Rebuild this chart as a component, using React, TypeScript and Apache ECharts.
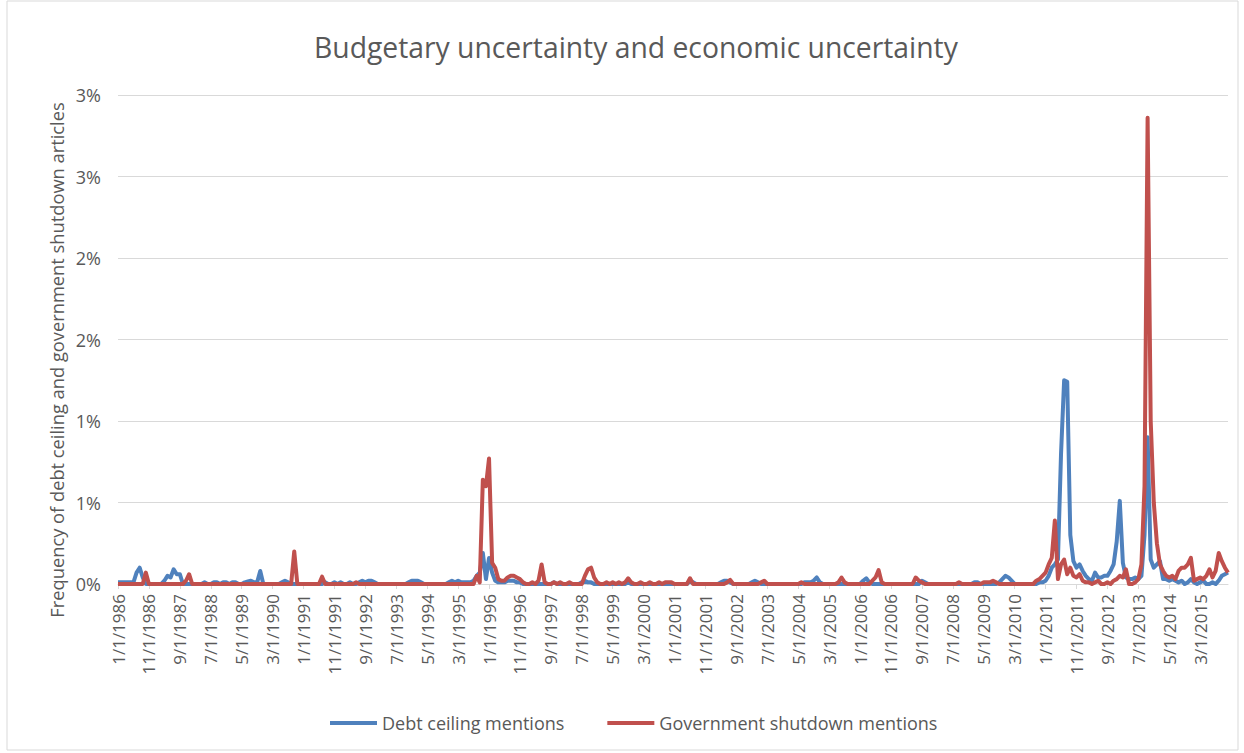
import React, { useEffect, useRef } from "react";
import * as echarts from "echarts";

const TITLE = "Budgetary uncertainty and economic uncertainty";
const Y_AXIS_NAME = "Frequency of debt ceiling and government shutdown articles";
const SERIES_NAMES = ["Debt ceiling mentions", "Government shutdown mentions"];
const COLORS = ["#4F81BD", "#C0504D"];
const FIRST_YEAR = 1986;
const LAST_YEAR = 2015;

// Monthly category labels, M/1/YYYY
const categories: string[] = [];
for (let y = FIRST_YEAR; y <= LAST_YEAR; y++) {
  for (let m = 1; m <= 12; m++) categories.push(`${m}/1/${y}`);
}

// Share of articles (%), one row per year, Jan..Dec
const debtCeiling: number[] = [
  /*1986*/ [0.01, 0.01, 0.01, 0.01, 0.01, 0.01, 0.07, 0.10, 0.04, 0.0, 0.0, 0.0],
  /*1987*/ [0.0, 0.0, 0.0, 0.02, 0.05, 0.04, 0.09, 0.06, 0.06, 0.0, 0.0, 0.0],
  /*1988*/ [0.0, 0.0, 0.0, 0.0, 0.01, 0.0, 0.0, 0.01, 0.01, 0.0, 0.01, 0.01],
  /*1989*/ [0.0, 0.01, 0.01, 0.0, 0.0, 0.01, 0.015, 0.02, 0.01, 0.01, 0.08, 0.0],
  /*1990*/ [0.0, 0.0, 0.0, 0.0, 0.0, 0.01, 0.02, 0.01, 0.0, 0.0, 0.0, 0.0],
  /*1991*/ [0.0, 0.0, 0.0, 0.0, 0.0, 0.0, 0.0, 0.01, 0.0, 0.0, 0.01, 0.0],
  /*1992*/ [0.01, 0.0, 0.0, 0.01, 0.0, 0.0, 0.01, 0.02, 0.01, 0.02, 0.02, 0.01],
  /*1993*/ [0.0, 0.0, 0.0, 0.0, 0.0, 0.0, 0.0, 0.0, 0.0, 0.0, 0.01, 0.02],
  /*1994*/ [0.02, 0.02, 0.01, 0.0, 0.0, 0.0, 0.0, 0.0, 0.0, 0.0, 0.0, 0.01],
  /*1995*/ [0.02, 0.01, 0.02, 0.01, 0.01, 0.01, 0.01, 0.02, 0.05, 0.07, 0.19, 0.03],
  /*1996*/ [0.16, 0.07, 0.02, 0.01, 0.01, 0.01, 0.02, 0.02, 0.02, 0.01, 0.01, 0.0],
  /*1997*/ [0.0, 0.0, 0.0, 0.0, 0.0, 0.0, 0.0, 0.0, 0.0, 0.01, 0.0, 0.0],
  /*1998*/ [0.0, 0.0, 0.0, 0.0, 0.0, 0.0, 0.01, 0.02, 0.01, 0.01, 0.0, 0.0],
  /*1999*/ [0.0, 0.0, 0.0, 0.0, 0.0, 0.0, 0.0, 0.0, 0.0, 0.01, 0.0, 0.0],
  /*2000*/ [0.0, 0.0, 0.0, 0.0, 0.0, 0.0, 0.0, 0.0, 0.0, 0.0, 0.0, 0.0],
  /*2001*/ [0.0, 0.0, 0.0, 0.0, 0.0, 0.02, 0.01, 0.0, 0.0, 0.0, 0.0, 0.0],
  /*2002*/ [0.0, 0.0, 0.0, 0.01, 0.02, 0.02, 0.01, 0.0, 0.0, 0.0, 0.0, 0.0],
  /*2003*/ [0.0, 0.01, 0.02, 0.01, 0.0, 0.0, 0.0, 0.0, 0.0, 0.0, 0.0, 0.0],
  /*2004*/ [0.0, 0.0, 0.0, 0.0, 0.0, 0.0, 0.01, 0.01, 0.01, 0.02, 0.04, 0.01],
  /*2005*/ [0.0, 0.0, 0.0, 0.0, 0.0, 0.0, 0.0, 0.0, 0.0, 0.0, 0.0, 0.0],
  /*2006*/ [0.0, 0.02, 0.035, 0.01, 0.0, 0.0, 0.0, 0.0, 0.0, 0.0, 0.0, 0.0],
  /*2007*/ [0.0, 0.0, 0.0, 0.0, 0.0, 0.0, 0.0, 0.0, 0.02, 0.01, 0.0, 0.0],
  /*2008*/ [0.0, 0.0, 0.0, 0.0, 0.0, 0.0, 0.0, 0.0, 0.0, 0.0, 0.0, 0.0],
  /*2009*/ [0.0, 0.01, 0.01, 0.0, 0.0, 0.0, 0.0, 0.0, 0.0, 0.01, 0.03, 0.05],
  /*2010*/ [0.04, 0.02, 0.0, 0.0, 0.0, 0.0, 0.0, 0.0, 0.0, 0.0, 0.01, 0.01],
  /*2011*/ [0.02, 0.05, 0.1, 0.12, 0.15, 0.8, 1.25, 1.24, 0.3, 0.14, 0.1, 0.12],
  /*2012*/ [0.08, 0.05, 0.03, 0.02, 0.07, 0.04, 0.04, 0.05, 0.05, 0.08, 0.12, 0.26],
  /*2013*/ [0.51, 0.13, 0.04, 0.03, 0.03, 0.04, 0.03, 0.05, 0.3, 0.9, 0.15, 0.1],
  /*2014*/ [0.12, 0.14, 0.03, 0.03, 0.02, 0.03, 0.02, 0.01, 0.02, 0.0, 0.01, 0.03],
  /*2015*/ [0.01, 0.0, 0.01, 0.02, 0.0, 0.0, 0.01, 0.0, 0.02, 0.05, 0.06, 0.07],
].flat();

const governmentShutdown: number[] = [
  /*1986*/ [0, 0, 0, 0, 0, 0, 0, 0, 0, 0.07, 0, 0],
  /*1987*/ [0, 0, 0, 0, 0, 0, 0, 0, 0, 0, 0.02, 0.06],
  /*1988*/ [0, 0, 0, 0, 0, 0, 0, 0, 0, 0, 0, 0],
  /*1989*/ [0, 0, 0, 0, 0, 0, 0, 0, 0, 0, 0, 0],
  /*1990*/ [0, 0, 0, 0, 0, 0, 0, 0, 0, 0.2, 0, 0],
  /*1991*/ [0, 0, 0, 0, 0, 0, 0.045, 0, 0, 0, 0, 0],
  /*1992*/ [0, 0, 0, 0, 0, 0.01, 0, 0, 0, 0, 0, 0],
  /*1993*/ [0, 0, 0, 0, 0, 0, 0, 0, 0, 0, 0, 0],
  /*1994*/ [0, 0, 0, 0, 0, 0, 0, 0, 0, 0, 0, 0],
  /*1995*/ [0, 0, 0, 0, 0, 0, 0, 0, 0.05, 0.01, 0.64, 0.6],
  /*1996*/ [0.77, 0.13, 0.1, 0.03, 0.02, 0.02, 0.04, 0.05, 0.05, 0.04, 0.03, 0.01],
  /*1997*/ [0, 0, 0.01, 0, 0.02, 0.12, 0.01, 0, 0, 0.01, 0, 0.01],
  /*1998*/ [0, 0, 0.01, 0, 0, 0, 0, 0.05, 0.09, 0.1, 0.04, 0.01],
  /*1999*/ [0, 0, 0.01, 0, 0.01, 0, 0.01, 0, 0.01, 0.035, 0.01, 0],
  /*2000*/ [0, 0.01, 0, 0, 0.01, 0, 0, 0.01, 0, 0.01, 0.01, 0.01],
  /*2001*/ [0, 0, 0, 0, 0, 0.035, 0, 0, 0, 0, 0, 0],
  /*2002*/ [0, 0, 0, 0, 0, 0.01, 0.025, 0, 0, 0, 0, 0],
  /*2003*/ [0, 0, 0, 0, 0.01, 0.02, 0, 0, 0, 0, 0, 0],
  /*2004*/ [0, 0, 0, 0, 0, 0.01, 0, 0, 0, 0, 0, 0],
  /*2005*/ [0, 0, 0, 0, 0, 0.01, 0.04, 0.01, 0, 0, 0, 0],
  /*2006*/ [0, 0, 0, 0, 0.02, 0.04, 0.085, 0.01, 0, 0, 0, 0],
  /*2007*/ [0, 0, 0, 0, 0, 0, 0.04, 0.02, 0.01, 0, 0, 0],
  /*2008*/ [0, 0, 0, 0, 0, 0, 0, 0, 0.01, 0, 0, 0],
  /*2009*/ [0, 0, 0, 0, 0.01, 0.01, 0.01, 0.02, 0.01, 0, 0, 0],
  /*2010*/ [0, 0, 0, 0, 0, 0, 0, 0, 0, 0.02, 0.03, 0.05],
  /*2011*/ [0.07, 0.12, 0.16, 0.39, 0.03, 0.12, 0.15, 0.06, 0.1, 0.05, 0.04, 0.06],
  /*2012*/ [0.02, 0.01, 0.01, 0.0, 0.01, 0.02, 0.0, 0.0, 0.01, 0.0, 0.02, 0.03],
  /*2013*/ [0.05, 0.04, 0.09, 0.0, 0.0, 0.01, 0.03, 0.12, 0.6, 2.86, 1.0, 0.5],
  /*2014*/ [0.25, 0.12, 0.08, 0.05, 0.04, 0.05, 0.03, 0.08, 0.1, 0.1, 0.12, 0.16],
  /*2015*/ [0.02, 0.03, 0.04, 0.03, 0.05, 0.09, 0.04, 0.08, 0.19, 0.14, 0.1, 0.07],
].flat();

const Y_MIN = 0;
const Y_MAX = 3;
const Y_STEP = 0.5;

const FONT = "'Open Sans', 'Noto Sans', sans-serif";
const TEXT_COLOR = "#595959";
const GRID_COLOR = "#D9D9D9";

export default function App() {
  const ref = useRef<HTMLDivElement>(null);

  useEffect(() => {
    if (!ref.current) return;
    const chart = echarts.init(ref.current, undefined, { renderer: "svg" });
    chart.setOption({
      animation: false,
      backgroundColor: "#ffffff",
      textStyle: { fontFamily: FONT },
      title: {
        text: TITLE,
        left: 309,
        top: 28,
        textStyle: { fontFamily: FONT, fontSize: 28.3, fontWeight: "normal", color: TEXT_COLOR },
      },
      graphic: [
        {
          type: "rect",
          shape: { x: 7, y: 1, width: 1231, height: 749 },
          style: { fill: "none", stroke: GRID_COLOR, lineWidth: 1 },
          silent: true,
        },
        {
          type: "text",
          x: 56,
          y: 360,
          rotation: Math.PI / 2,
          style: {
            text: Y_AXIS_NAME,
            fontFamily: FONT,
            fontSize: 18.3,
            fill: TEXT_COLOR,
            textAlign: "center",
            textVerticalAlign: "middle",
          },
          silent: true,
        },
      ],
      legend: {
        data: SERIES_NAMES,
        left: 325,
        top: 709,
        icon: "rect",
        itemWidth: 47,
        itemHeight: 4,
        itemGap: 43,
        textStyle: { fontFamily: FONT, fontSize: 18, color: TEXT_COLOR },
      },
      grid: { left: 118, right: 16, top: 95, bottom: 169, containLabel: false },
      xAxis: {
        type: "category",
        data: categories,
        boundaryGap: false,
        axisLine: { lineStyle: { color: GRID_COLOR, width: 1 } },
        axisTick: { interval: 9, length: 5, lineStyle: { color: GRID_COLOR } },
        axisLabel: {
          interval: 9,
          rotate: 90,
          margin: 10,
          fontFamily: FONT,
          fontSize: 17,
          color: TEXT_COLOR,
        },
        splitLine: { show: false },
      },
      yAxis: {
        type: "value",
        min: Y_MIN,
        max: Y_MAX,
        interval: Y_STEP,
        axisLine: { show: false },
        axisTick: { show: false },
        axisLabel: {
          formatter: (v: number) => `${Math.round(v)}%`,
          fontFamily: FONT,
          fontSize: 18,
          color: TEXT_COLOR,
          margin: 17,
        },
        splitLine: { lineStyle: { color: GRID_COLOR, width: 1 } },
      },
      series: [
        {
          name: SERIES_NAMES[0],
          type: "line",
          data: debtCeiling,
          showSymbol: false,
          symbol: "none",
          lineStyle: { color: COLORS[0], width: 4, join: "round" },
          itemStyle: { color: COLORS[0] },
          z: 2,
        },
        {
          name: SERIES_NAMES[1],
          type: "line",
          data: governmentShutdown,
          showSymbol: false,
          symbol: "none",
          lineStyle: { color: COLORS[1], width: 4, join: "round" },
          itemStyle: { color: COLORS[1] },
          z: 3,
        },
      ],
    });
    return () => chart.dispose();
  }, []);

  return (
    <div
      ref={ref}
      style={{ position: "fixed", left: 0, top: 0, width: 1244, height: 753, background: "#fff" }}
    />
  );
}
